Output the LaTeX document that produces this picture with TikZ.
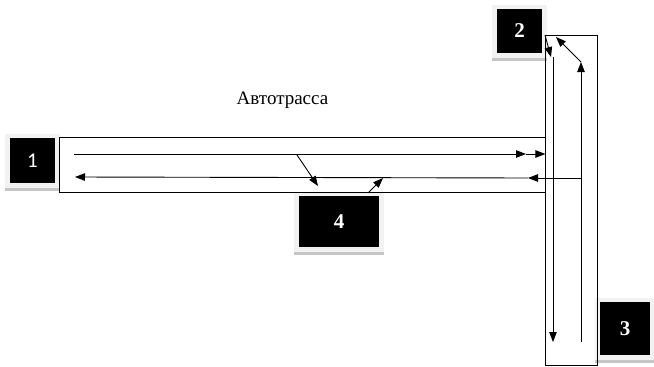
\documentclass[tikz,border=0pt]{standalone}
\usepackage{fontspec}
\setmainfont{Liberation Serif}
\newfontfamily\calib{Carlito}
\usetikzlibrary{arrows.meta,backgrounds}
\begin{document}
\begin{tikzpicture}[x=1pt,y=-1pt,line width=0.9pt,
  tip/.style={-{Triangle[length=10pt,width=7.5pt]}},
  road/.style={draw,inner sep=0pt,line width=0.9pt},
  numbox/.style={fill=black,text=white,inner sep=0pt,font=\bfseries\fontsize{21}{21}\selectfont},
  glow/.style={fill=gray!10},
  shade/.style={fill=gray!45}]
\useasboundingbox (0,0) rectangle (654,367);
% roads
\node[road,minimum width=486pt,minimum height=55pt] (hroad) at (302,164.5) {};
\node[road,minimum width=52pt,minimum height=330pt] (vroad) at (571,200.5) {};
% label
\node[anchor=base,font=\fontsize{19}{19}\selectfont,inner sep=0pt] (lbl) at (282.5,104) {Автотрасса};
% number boxes
\node[numbox,minimum width=45pt,minimum height=45pt,font=\calib\fontsize{21}{21}\selectfont] (b1) at (32.5,160.5) {1};
\node[numbox,minimum width=45pt,minimum height=44pt] (b2) at (519.5,31) {2};
\node[numbox,minimum width=50pt,minimum height=53pt] (b3) at (625,328.5) {3};
\node[numbox,minimum width=80pt,minimum height=51pt] (b4) at (339,221.5) {4};
\begin{scope}[on background layer]
  \foreach \b in {b1,b2,b3,b4}{
    \fill[glow] ([shift={(-5,-4)}]\b.north west) rectangle ([shift={(5,8)}]\b.south east);
    \fill[shade] ([shift={(-5,5)}]\b.south west) rectangle ([shift={(5,8)}]\b.south east);
  }
\end{scope}
% coordinates
\coordinate (u1) at (74,154);
\coordinate (u2) at (526,154);
\coordinate (u3) at (hroad.east |- u1);
\coordinate (l0) at (581,178);
\coordinate (l1) at (528,178);
\coordinate (l2) at (75,177);
\coordinate (d1) at (297,155);
\coordinate (d2) at (318,186);
\coordinate (a4) at (368,193);
\coordinate (a4e) at (383,178);
\coordinate (c2) at (545,35);
\coordinate (c2e) at (551,57);
\coordinate (v1) at (553,57);
\coordinate (v2) at (553,342);
\coordinate (w1) at (581,342);
\coordinate (w2) at (581,62);
\coordinate (w3) at (556,37);
% arrows
\draw[tip] (u1) -- (u2);
\draw[tip] (u2) -- (u3);
\draw[tip] (l0) -- (l1);
\draw[tip] (l1) -- (l2);
\draw[tip] (d1) -- (d2);
\draw[tip] (a4) -- (a4e);
\draw[tip] (c2) -- (c2e);
\draw[tip] (v1) -- (v2);
\draw[tip] (w1) -- (w2);
\draw[tip] (w2) -- (w3);
\end{tikzpicture}
\end{document}
